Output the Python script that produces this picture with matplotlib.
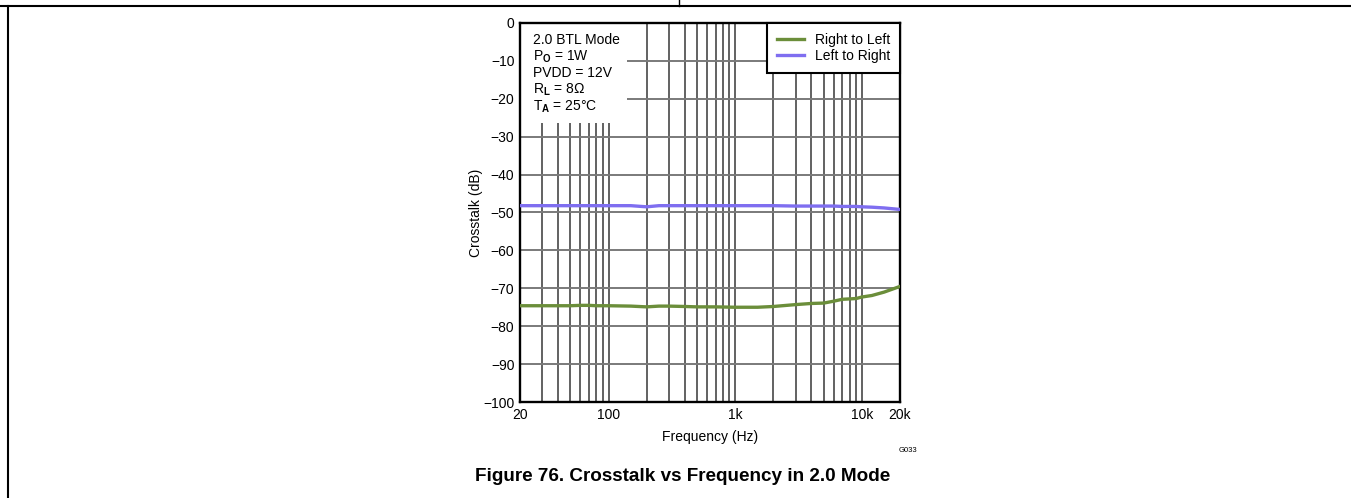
import matplotlib
matplotlib.use("Agg")
import matplotlib.pyplot as plt
from matplotlib.lines import Line2D
from matplotlib.patches import Rectangle
from matplotlib.ticker import FixedLocator, NullFormatter

plt.rcParams['font.family'] = ['Liberation Sans', 'DejaVu Sans']
plt.rcParams['mathtext.fontset'] = 'custom'
plt.rcParams['mathtext.rm'] = 'Liberation Sans'
plt.rcParams['mathtext.bf'] = 'Liberation Sans:bold'

# data
freq = [20, 30, 40, 50, 60, 70, 80, 100, 150, 200, 250, 300, 400, 500, 700,
        1000, 1500, 2000, 3000, 4000, 5000, 6000, 7000, 8000, 9000, 10000,
        12000, 15000, 20000]
right_to_left = [-74.6, -74.6, -74.6, -74.6, -74.5, -74.5, -74.6, -74.6, -74.7,
                 -74.9, -74.7, -74.7, -74.8, -74.9, -74.9, -75.0, -75.0, -74.8,
                 -74.3, -74.0, -73.9, -73.4, -72.9, -72.8, -72.7, -72.3,
                 -71.9, -71.0, -69.5]
left_to_right = [-48.2, -48.2, -48.2, -48.2, -48.2, -48.2, -48.2, -48.2, -48.2,
                 -48.5, -48.2, -48.2, -48.2, -48.2, -48.2, -48.2, -48.2, -48.2,
                 -48.3, -48.3, -48.3, -48.3, -48.4, -48.4, -48.4, -48.5,
                 -48.6, -48.8, -49.2]

yticks = [0, -10, -20, -30, -40, -50, -60, -70, -80, -90, -100]
xticks = [20, 100, 1000, 10000, 20000]
xticklabels = ['20', '100', '1k', '10k', '20k']
xminor = [30, 40, 50, 60, 70, 80, 90, 200, 300, 400, 500, 600, 700, 800, 900,
          2000, 3000, 4000, 5000, 6000, 7000, 8000, 9000]

W, H = 1351, 498
fig = plt.figure(figsize=(W / 100, H / 100), dpi=100)
ax = fig.add_axes([520 / W, 1 - 402 / H, 380 / W, 379 / H])

ax.set_xscale('log')
ax.set_xlim(20, 20000)
ax.set_ylim(-100, 0)
ax.xaxis.set_major_locator(FixedLocator(xticks))
ax.xaxis.set_minor_locator(FixedLocator(xminor))
ax.xaxis.set_minor_formatter(NullFormatter())
ax.set_xticklabels(xticklabels)
ax.set_yticks(yticks)
ax.set_yticklabels([str(v).replace('-', '\u2212') for v in yticks])
ax.tick_params(which='both', length=0, labelsize=10, pad=4)
ax.grid(True, which='both', axis='x', color='#555555', linewidth=1.3)
ax.grid(True, which='major', axis='y', color='#7a7a7a', linewidth=1.4)
ax.set_axisbelow(True)
for s in ax.spines.values():
    s.set_linewidth(1.7)
    s.set_color('black')

ax.plot(freq, right_to_left, color='#6b8e3a', linewidth=2.4, label='Right to Left', zorder=4)
ax.plot(freq, left_to_right, color='#7f6ef0', linewidth=2.4, label='Left to Right', zorder=4)

ax.set_xlabel('Frequency (Hz)', fontsize=10, labelpad=6)
ax.set_ylabel('Crosstalk (dB)', fontsize=10, labelpad=0)

# condition box
ax.add_patch(Rectangle((0, 0.736), 0.282, 0.264, transform=ax.transAxes,
                       facecolor='white', edgecolor='none', zorder=2))
cond = ['2.0 BTL Mode', r'P$_\mathbf{O}$ = 1W', 'PVDD = 12V',
        r'R$_\mathbf{L}$ = 8$\Omega$', r'T$_\mathbf{A}$ = 25°C']
for i, line in enumerate(cond):
    ax.text(0.034, 0.955 - i * 0.0437, line, transform=ax.transAxes,
            fontsize=10, va='center', ha='left', zorder=3)

leg = ax.legend(loc='upper right', borderaxespad=0, fancybox=False,
                edgecolor='black', framealpha=1, fontsize=10,
                handlelength=1.95, handletextpad=0.8, borderpad=0.7,
                labelspacing=0.15)
leg.get_frame().set_linewidth(1.5)
leg.set_zorder(5)

fig.text(908 / W, 1 - 450 / H, 'G033', fontsize=5.5, ha='center', va='center')
fig.text(683 / W, 1 - 476 / H, 'Figure 76. Crosstalk vs Frequency in 2.0 Mode',
         fontsize=13.6, fontweight='bold', ha='center', va='center')

# page frame lines
fig.add_artist(Line2D([0, 1], [1 - 6 / H, 1 - 6 / H], transform=fig.transFigure,
                      color='black', linewidth=1.5))
fig.add_artist(Line2D([679 / W, 679 / W], [1 - 6 / H, 1], transform=fig.transFigure,
                      color='black', linewidth=1.0))
fig.add_artist(Line2D([8 / W, 8 / W], [0, 1 - 6 / H], transform=fig.transFigure,
                      color='black', linewidth=1.5))

fig.savefig('out.png', dpi=100)
